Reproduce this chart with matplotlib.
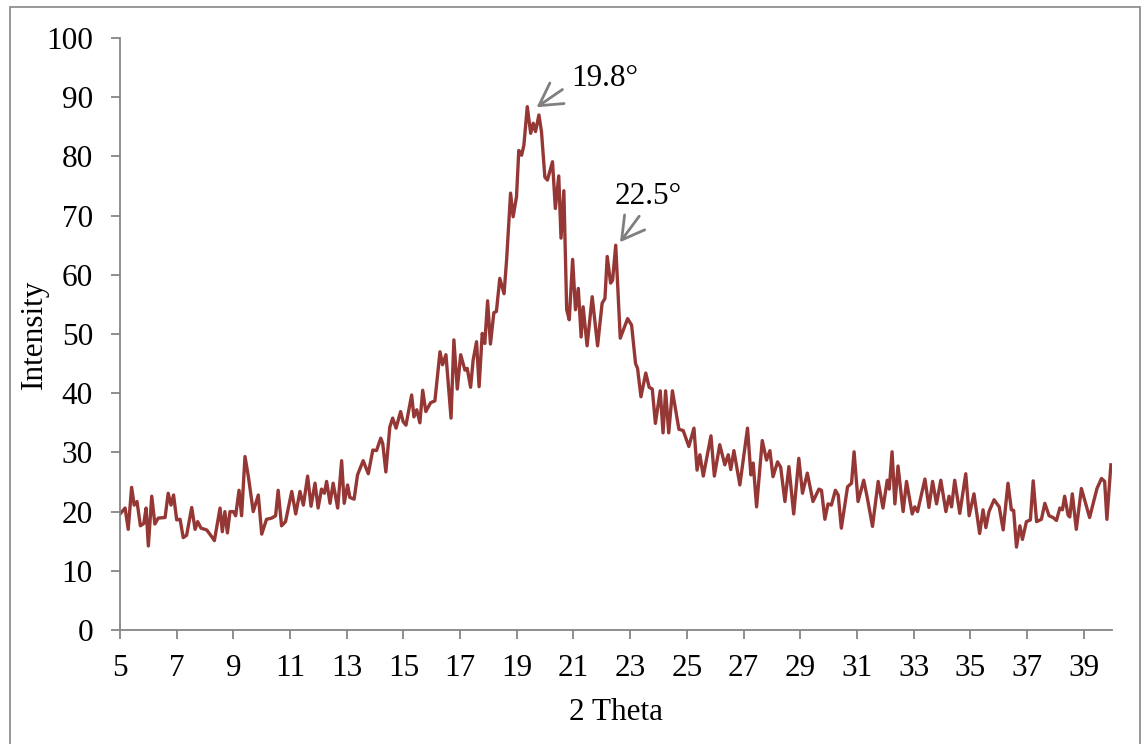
import matplotlib
matplotlib.use("Agg")
import matplotlib.pyplot as plt
from matplotlib.patches import Rectangle

# XRD pattern (2 theta in degrees, intensity in counts)
two_theta = [
    5.00, 5.18, 5.29, 5.41, 5.50, 5.60, 5.72, 5.84, 5.92, 6.00,
    6.12, 6.23, 6.35, 6.59, 6.70, 6.80, 6.89, 7.00, 7.12, 7.23,
    7.35, 7.53, 7.65, 7.74, 7.86, 8.06, 8.23, 8.33, 8.53, 8.61,
    8.70, 8.79, 8.88, 9.00, 9.08, 9.20, 9.29, 9.41, 9.53, 9.70,
    9.88, 10.00, 10.17, 10.35, 10.49, 10.58, 10.70, 10.84, 11.06, 11.20,
    11.35, 11.47, 11.62, 11.74, 11.88, 11.99, 12.11, 12.21, 12.29, 12.41,
    12.52, 12.68, 12.82, 12.91, 13.03, 13.11, 13.26, 13.38, 13.58, 13.76,
    13.92, 14.05, 14.20, 14.27, 14.38, 14.52, 14.62, 14.74, 14.90, 14.99,
    15.09, 15.29, 15.37, 15.47, 15.58, 15.68, 15.79, 15.96, 16.11, 16.29,
    16.38, 16.50, 16.68, 16.78, 16.90, 17.02, 17.17, 17.25, 17.37, 17.46,
    17.58, 17.67, 17.78, 17.87, 17.97, 18.07, 18.19, 18.28, 18.40, 18.55,
    18.64, 18.78, 18.87, 18.99, 19.07, 19.17, 19.25, 19.37, 19.49, 19.58,
    19.66, 19.78, 19.87, 19.99, 20.08, 20.26, 20.36, 20.48, 20.56, 20.66,
    20.76, 20.85, 20.97, 21.07, 21.17, 21.27, 21.34, 21.48, 21.66, 21.85,
    22.01, 22.11, 22.19, 22.31, 22.38, 22.49, 22.65, 22.91, 23.05, 23.19,
    23.26, 23.38, 23.55, 23.67, 23.78, 23.89, 24.06, 24.16, 24.25, 24.36,
    24.49, 24.72, 24.87, 25.07, 25.25, 25.36, 25.46, 25.58, 25.85, 25.97,
    26.16, 26.34, 26.46, 26.55, 26.66, 26.87, 27.14, 27.26, 27.34, 27.46,
    27.66, 27.81, 27.93, 28.04, 28.20, 28.31, 28.46, 28.60, 28.77, 28.95,
    29.08, 29.25, 29.45, 29.66, 29.75, 29.87, 29.98, 30.10, 30.24, 30.34,
    30.45, 30.67, 30.81, 30.90, 31.04, 31.24, 31.36, 31.55, 31.75, 31.92,
    32.07, 32.14, 32.24, 32.34, 32.45, 32.63, 32.75, 32.95, 33.04, 33.14,
    33.40, 33.54, 33.67, 33.81, 33.96, 34.14, 34.25, 34.34, 34.45, 34.63,
    34.84, 34.96, 35.13, 35.33, 35.45, 35.55, 35.66, 35.84, 36.02, 36.16,
    36.33, 36.45, 36.53, 36.63, 36.75, 36.84, 36.98, 37.12, 37.22, 37.34,
    37.51, 37.63, 37.78, 37.92, 38.04, 38.16, 38.25, 38.33, 38.45, 38.51,
    38.60, 38.74, 38.92, 39.21, 39.47, 39.63, 39.74, 39.82, 39.96,
]
intensity = [
    19.6, 20.6, 17.0, 24.1, 21.1, 21.7, 17.6, 18.0, 20.6, 14.2,
    22.6, 17.9, 18.9, 19.0, 23.1, 21.1, 22.8, 18.6, 18.7, 15.6,
    16.0, 20.7, 17.0, 18.3, 17.2, 16.9, 15.8, 15.1, 20.6, 16.6,
    20.0, 16.4, 20.0, 20.0, 19.3, 23.6, 19.3, 29.3, 25.9, 20.0,
    22.8, 16.2, 18.7, 18.9, 19.3, 23.6, 17.6, 18.3, 23.4, 19.6,
    23.4, 21.1, 26.0, 20.9, 24.8, 20.6, 23.8, 23.1, 25.1, 21.4,
    24.8, 20.6, 28.6, 21.4, 24.5, 22.4, 22.1, 26.2, 28.6, 26.4,
    30.4, 30.3, 32.4, 31.5, 26.7, 34.3, 35.8, 34.1, 36.9, 35.2,
    34.6, 39.7, 36.0, 37.2, 35.0, 40.5, 36.9, 38.4, 38.7, 47.0,
    44.8, 46.5, 35.8, 49.0, 40.7, 46.5, 43.9, 44.2, 41.0, 45.6,
    48.7, 41.1, 50.1, 48.4, 55.6, 48.3, 53.6, 53.8, 59.4, 56.8,
    62.5, 73.8, 69.8, 73.2, 81.0, 80.2, 81.9, 88.4, 83.9, 85.6,
    84.2, 87.0, 84.2, 76.5, 76.0, 79.1, 71.2, 76.7, 66.2, 74.2,
    54.1, 52.4, 62.6, 54.1, 57.7, 49.5, 54.6, 48.0, 56.3, 48.0,
    55.2, 56.0, 63.1, 58.6, 59.1, 65.0, 49.3, 52.6, 51.5, 45.0,
    44.2, 39.4, 43.4, 41.0, 40.7, 34.9, 40.4, 33.3, 40.4, 33.3,
    40.4, 33.9, 33.7, 31.0, 34.1, 27.0, 29.6, 26.0, 32.8, 26.0,
    31.3, 27.9, 29.6, 27.1, 30.3, 24.5, 34.1, 26.2, 28.2, 20.8,
    32.0, 28.7, 30.3, 25.9, 28.4, 27.5, 21.7, 27.6, 19.6, 29.0,
    23.1, 26.5, 21.7, 23.8, 23.6, 18.7, 21.3, 21.1, 23.6, 22.8,
    17.2, 24.2, 24.8, 30.1, 21.7, 25.3, 22.5, 17.5, 25.1, 20.6,
    25.3, 23.8, 30.1, 21.3, 27.7, 20.0, 25.1, 19.6, 20.8, 20.0,
    25.5, 20.7, 25.1, 21.3, 25.3, 20.0, 22.6, 20.8, 25.3, 19.7,
    26.4, 19.3, 23.0, 16.3, 20.3, 17.3, 20.0, 22.0, 20.8, 16.9,
    24.8, 20.3, 20.2, 14.0, 17.6, 15.3, 18.3, 18.6, 25.2, 18.3,
    18.7, 21.4, 19.3, 19.0, 18.5, 20.6, 20.3, 22.6, 19.4, 19.1,
    23.0, 17.0, 23.9, 19.0, 23.9, 25.6, 25.1, 18.7, 27.9,
]

x_ticks = list(range(5, 40, 2))
y_ticks = list(range(0, 101, 10))

# peak labels: (text, arrow tip, arrow tail / text anchor)
peak_labels = ["19.8°", "22.5°"]
peak_tips = [(19.70, 88.3), (22.64, 65.5)]
peak_tails = [(20.61, 91.3), (23.32, 69.9)]
label_pos = [(20.92, 93.2), (22.44, 73.3)]

plt.rcParams["font.family"] = ["Liberation Serif", "DejaVu Serif"]
plt.rcParams["font.size"] = 22.5

axis_grey = "#868686"
line_red = "#953735"

fig = plt.figure(figsize=(11.44, 7.44), dpi=100)
ax = fig.add_axes([120 / 1144, 1 - 630 / 744, (1112 - 120) / 1144, (630 - 38) / 744])

ax.plot(two_theta, intensity, color=line_red, lw=2.4, solid_joinstyle="round")

ax.set_xlim(5, 40)
ax.set_ylim(0, 100)
ax.set_xticks(x_ticks)
ax.set_yticks(y_ticks)

for side in ("top", "right"):
    ax.spines[side].set_visible(False)
for side in ("left", "bottom"):
    ax.spines[side].set_color(axis_grey)
    ax.spines[side].set_linewidth(1.3)

ax.tick_params(axis="both", direction="out", length=6.5, width=1.3, color=axis_grey)
ax.tick_params(axis="x", pad=11)
ax.tick_params(axis="y", pad=13)

ax.set_xlabel("2 Theta")
ax.set_ylabel("Intensity")
ax.xaxis.set_label_coords(0.5, -0.14, transform=ax.transAxes)
ax.yaxis.set_label_coords(-0.086, 0.5, transform=ax.transAxes)
ax.xaxis.label.set_va("center")
ax.yaxis.label.set_va("center")

for text, tip, tail, pos in zip(peak_labels, peak_tips, peak_tails, label_pos):
    ax.annotate("", xy=tip, xytext=tail,
                arrowprops=dict(arrowstyle="->,head_length=0.7,head_width=0.4",
                                color="#7f7f7f", lw=2.0, shrinkA=0, shrinkB=0))
    ax.text(pos[0], pos[1], text, ha="left", va="center")

# chart area border
fig.patches.append(Rectangle((10 / 1144, -0.05), 1130 / 1144, 1 - 7 / 744 + 0.05,
                             transform=fig.transFigure, fill=False,
                             edgecolor=axis_grey, lw=1.2))

fig.savefig("out.png", dpi=100)
